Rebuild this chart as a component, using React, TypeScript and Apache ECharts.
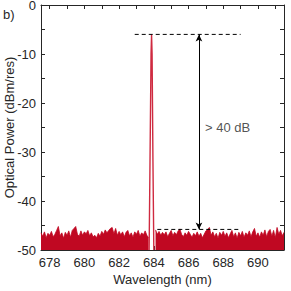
import React, { useEffect, useRef } from "react";
import * as echarts from "echarts";

const xTicks = [678, 679, 680, 681, 682, 683, 684, 685, 686, 687, 688, 689, 690, 691];
const xLabels = [678, 680, 682, 684, 686, 688, 690];

const leftStart = 677.5;
const leftNoise = [
  -46.5, -47.2, -46.3, -47.5, -46.6, -47.0, -46.2, -47.3, -46.8, -46.0,
  -45.2, -47.1, -46.5, -47.6, -46.4, -47.0, -46.1, -47.4, -46.0, -45.6,
  -45.2, -46.8, -47.2, -46.1, -47.0, -46.3, -46.7, -46.0, -47.1, -46.5,
  -47.3, -47.0, -47.5, -46.6, -47.2, -46.2, -46.8, -45.9, -46.5, -46.0,
  -45.6, -45.4, -46.7, -45.6, -47.0, -46.2, -46.9, -46.3, -47.3, -46.4,
  -46.0, -47.1, -46.5, -47.4, -46.3, -46.8, -46.0, -47.2, -46.5, -46.9,
  -46.1, -47.0, -47.5,
];
const rightStart = 684.1;
const rightNoise = [
  -45.9, -46.8, -46.2, -47.0, -46.4, -46.9, -46.3, -47.3, -46.6, -46.0,
  -47.1, -46.4, -46.9, -46.1, -45.7, -46.8, -47.3, -46.5, -47.0, -46.2,
  -46.8, -47.4, -46.6, -47.1, -46.3, -47.2, -46.6, -47.5, -46.8, -46.1,
  -45.8, -45.4, -47.0, -46.3, -47.3, -46.6, -47.6, -46.4, -47.0, -46.2,
  -47.2, -46.5, -47.5, -46.7, -46.0, -47.3, -46.5, -47.6, -46.4, -47.1,
  -46.2, -47.4, -46.5, -47.0, -46.1, -47.3, -46.3, -45.6, -47.2, -46.5,
  -47.4, -46.3, -47.0, -45.9, -47.3, -46.2, -45.8, -47.2, -46.0, -47.5,
  -45.4, -46.8, -46.0, -47.1, -46.4,
];
const peakX = [683.73, 683.78, 683.84, 683.87, 683.9, 683.95, 684.0];
const peakY = [-50, -32, -10, -6, -10, -32, -50];

const topLevel = -6;
const floorLevel = -45.8;
const topDash = [682.9, 689.0];
const floorDash = [684.2, 689.0];
const arrowX = 686.6;

const TXT = "#262626";
const FONT = "Liberation Sans, Arial, Helvetica, sans-serif";

export default function App() {
  const ref = useRef<HTMLDivElement>(null);
  useEffect(() => {
    const chart = echarts.init(ref.current!, null, { renderer: "svg" });
    const noiseColor = "#c00822";
    const left = leftNoise.map((v, i) => [+(leftStart + i * 0.1).toFixed(2), v]);
    const right = rightNoise.map((v, i) => [+(rightStart + i * 0.1).toFixed(2), v]);
    const peak = peakX.map((x, i) => [x, peakY[i]]);
    const axisCommon = {
      min: 677.5,
      max: 691.5,
      axisLine: { show: true, onZero: false, lineStyle: { color: TXT, width: 1 } },
      splitLine: { show: false },
      axisTick: { show: true, inside: true, length: 4, customValues: xTicks, lineStyle: { color: TXT } },
    };
    const yCommon = {
      min: -50,
      max: 0,
      interval: 5,
      axisLine: { show: true, onZero: false, lineStyle: { color: TXT, width: 1 } },
      splitLine: { show: false },
      axisTick: { show: true, inside: true, length: 4, lineStyle: { color: TXT } },
    };
    chart.setOption({
      animation: false,
      grid: { left: 41, top: 5, right: 7, bottom: 41, containLabel: false, outerBoundsMode: "none" },
      xAxis: [
        {
          type: "value",
          position: "bottom",
          ...axisCommon,
          name: "Wavelength (nm)",
          nameLocation: "middle",
          nameGap: 23,
          nameMoveOverlap: false,
          nameTextStyle: { color: TXT, fontSize: 13, fontFamily: FONT },
          axisLabel: { customValues: xLabels, color: TXT, fontSize: 13, fontFamily: FONT, margin: 6 },
        },
        {
          type: "value",
          position: "top",
          ...axisCommon,
          axisLabel: { show: false },
        },
      ],
      yAxis: [
        {
          type: "value",
          position: "left",
          ...yCommon,
          name: "Optical Power (dBm/res)",
          nameLocation: "middle",
          nameGap: 25,
          nameMoveOverlap: false,
          nameTextStyle: { color: TXT, fontSize: 13, fontFamily: FONT },
          axisLabel: {
            color: TXT,
            fontSize: 13,
            fontFamily: FONT,
            margin: 5,
            formatter: (v: number) => (v % 10 === 0 ? String(v) : ""),
          },
        },
        {
          type: "value",
          position: "right",
          ...yCommon,
          axisLabel: { show: false },
        },
      ],
      series: [
        {
          type: "line",
          data: left,
          symbol: "none",
          lineStyle: { color: noiseColor, width: 0.8 },
          areaStyle: { color: noiseColor, opacity: 1, origin: "start" },
        },
        {
          type: "line",
          data: right,
          symbol: "none",
          lineStyle: { color: noiseColor, width: 0.8 },
          areaStyle: { color: noiseColor, opacity: 1, origin: "start" },
        },
        {
          type: "line",
          data: peak,
          symbol: "none",
          lineStyle: { color: "#cf2a40", width: 1.4 },
        },
        {
          type: "line",
          data: [[topDash[0], topLevel], [topDash[1], topLevel]],
          symbol: "none",
          lineStyle: { color: "#000", width: 1, type: [4, 3] },
          z: 5,
        },
        {
          type: "line",
          data: [[floorDash[0], floorLevel], [floorDash[1], floorLevel]],
          symbol: "none",
          lineStyle: { color: "#000", width: 1, type: [4, 3] },
          z: 5,
          markLine: {
            silent: true,
            symbol: ["arrow", "arrow"],
            symbolSize: [5, 7],
            label: { show: false },
            lineStyle: { color: "#000", width: 1, type: "solid" },
            data: [[{ coord: [arrowX, topLevel] }, { coord: [arrowX, floorLevel] }]],
          },
        },
        {
          type: "scatter",
          data: [[686.95, -25]],
          symbolSize: 0,
          label: {
            show: true,
            position: "right",
            distance: 0,
            formatter: "> 40 dB",
            color: TXT,
            fontSize: 13,
            fontFamily: FONT,
          },
        },
      ],
      graphic: [
        {
          type: "text",
          left: 3,
          top: 8,
          style: { text: "b)", fill: TXT, fontSize: 13, fontFamily: FONT },
        },
      ],
    });
    return () => chart.dispose();
  }, []);
  return (
    <div
      ref={ref}
      style={{ position: "fixed", left: 0, top: 0, width: 291, height: 291, background: "#fff" }}
    />
  );
}
